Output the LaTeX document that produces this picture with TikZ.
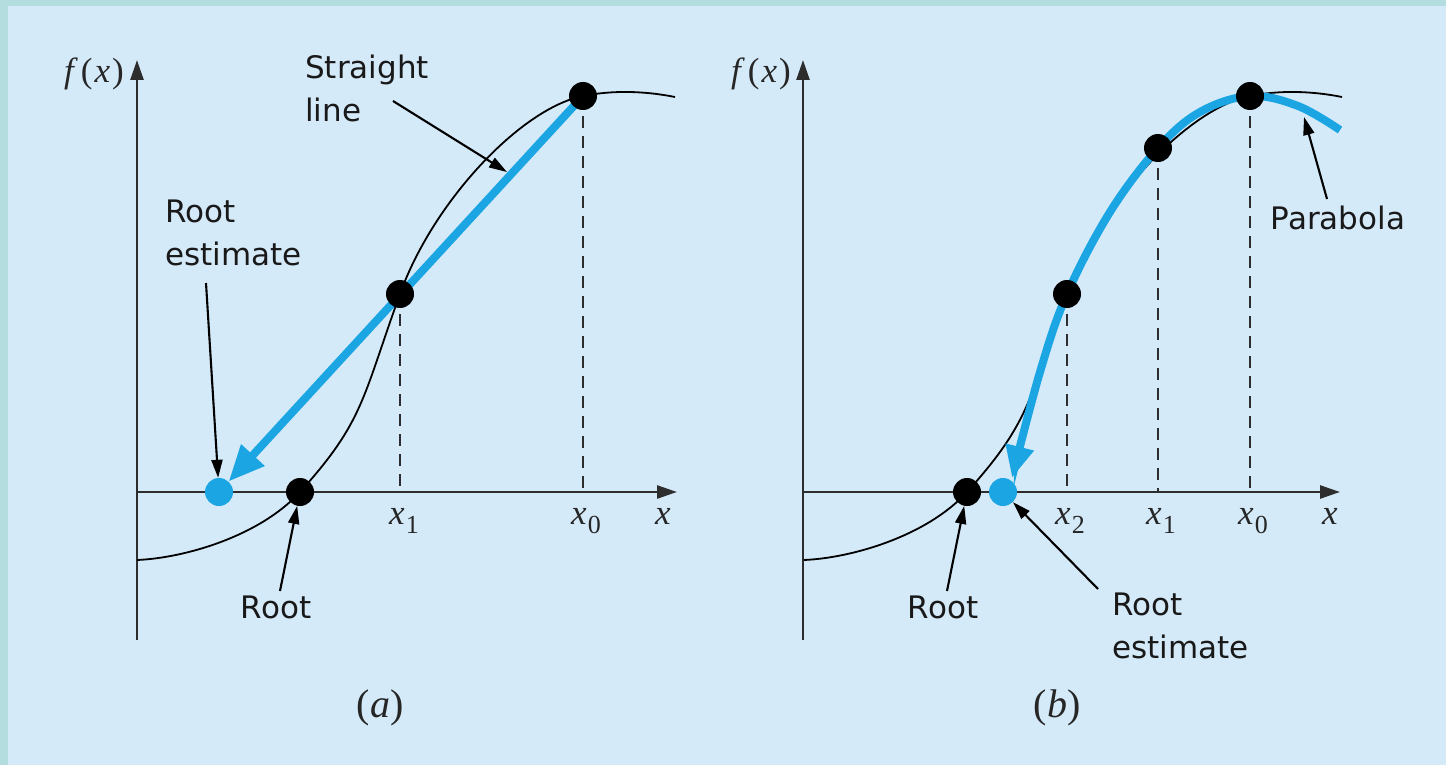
\documentclass[tikz,border=0pt]{standalone}
\usepackage{fontspec}
\setmainfont{Liberation Serif}
\setsansfont{DejaVu Sans}
\usetikzlibrary{arrows.meta}
\definecolor{bord}{RGB}{180,221,224}
\definecolor{bgin}{RGB}{213,234,249}
\definecolor{skyb}{RGB}{27,166,227}
\definecolor{axc}{RGB}{45,45,45}
\newcommand\xs[1]{\textit{x}\kern1pt\raisebox{-9pt}{\fontsize{26}{26}\selectfont #1}}
\newcommand\fx{\textit{f}\kern3pt(\kern2pt\textit{x}\kern2pt)}
\pgfdeclarelayer{bgl}
\pgfdeclarelayer{midl}
\pgfsetlayers{bgl,midl,main}
\begin{document}
\begin{tikzpicture}[x=1pt,y=-1pt,
  axis/.style={line width=2.6pt, draw=axc, -{Triangle[length=20pt,width=13pt]}},
  curve/.style={line width=1.8pt, draw=black},
  guide/.style={line width=2pt, draw=axc, dash pattern=on 12pt off 8pt},
  dot/.style={circle, fill=black, minimum size=28pt, inner sep=0pt},
  bdot/.style={circle, fill=skyb, minimum size=28pt, inner sep=0pt},
  bluearr/.style={line width=8pt, draw=skyb, -{Triangle[length=36pt,width=30pt]}},
  pointer/.style={line width=2.1pt, draw=black, -{Triangle[length=18pt,width=11pt]}},
  lab/.style={font=\sffamily\fontsize{31}{43}\selectfont, align=left, inner sep=0pt, text=black!90},
  mth/.style={font=\fontsize{35}{35}\selectfont, inner sep=0pt, text=black!85},
  captxt/.style={font=\fontsize{40}{40}\selectfont, inner sep=0pt, text=black!85}
]
\useasboundingbox (0,0) rectangle (1446,765);
\begin{pgfonlayer}{bgl}
  \fill[bord] (0,0) rectangle (1446,765);
  \fill[bgin] (8,6) rectangle (1446,765);
\end{pgfonlayer}

% ---------- panel (a) ----------
\node[dot] (rootA) at (300,492) {};
\node[dot] (x1A) at (400,294) {};
\node[dot] (x0A) at (583,96) {};
\node[bdot] (beA) at (219,492) {};
\node[mth] (fxA) at (94,74) {\fx};
\node[mth] (xA) at (663,516) {\textit{x}};
\node[mth] (lx0A) at (586,521) {\xs{0}};
\node[mth] (lx1A) at (404,521) {\xs{1}};
\node[lab, anchor=north west] (slA) at (305,55) {Straight\\line};
\node[lab, anchor=north west] (reA) at (165,200) {Root\\estimate};
\node[lab] (rtA) at (276,607) {Root};
\node[captxt] (capA) at (380,708) {(\textit{a})};
\coordinate (slS) at (393,101);
\coordinate (slE) at (507,172);
\coordinate (reS) at (206,283);
\coordinate (rtS) at (280,591);

\begin{pgfonlayer}{midl}
  \draw[axis] (137,640) -- (137,60);
  \draw[axis] (137,492) -- (677,492);
  \draw[guide] (400,294) -- (400,492);
  \draw[guide] (583,96) -- (583,492);
  \draw[curve] (137,560) .. controls (185,558) and (260,536) .. (300,492)
     .. controls (364,421) and (362,399) .. (400,294)
     .. controls (433,201.6) and (521,108.4) .. (583,96)
     .. controls (613,90) and (645,91) .. (675,97);
  \draw[bluearr] (x0A.center) -- (beA);
\end{pgfonlayer}
\draw[pointer] (slS) -- (slE);
\draw[pointer] (reS) -- (beA);
\draw[pointer] (rtS) -- (rootA);

% ---------- panel (b) ----------
\node[dot] (rootB) at (967,492) {};
\node[dot] (x2B) at (1067,294) {};
\node[dot] (x1B) at (1158,148) {};
\node[dot] (x0B) at (1250,96) {};
\node[bdot] (beB) at (1003,492) {};
\node[mth] (fxB) at (761,74) {\fx};
\node[mth] (xB) at (1330,516) {\textit{x}};
\node[mth] (lx0B) at (1253,521) {\xs{0}};
\node[mth] (lx1B) at (1161,521) {\xs{1}};
\node[mth] (lx2B) at (1070,521) {\xs{2}};
\node[lab] (paB) at (1338,218) {Parabola};
\node[lab] (rtB) at (943,607) {Root};
\node[lab, anchor=north west] (reB) at (1112,593) {Root\\estimate};
\node[captxt] (capB) at (1057,708) {(\textit{b})};
\coordinate (paS) at (1327,199);
\coordinate (paE) at (1304,117);
\coordinate (rtSB) at (947,591);
\coordinate (reSB) at (1098,589);

\begin{pgfonlayer}{midl}
  \draw[axis] (803,640) -- (803,60);
  \draw[axis] (803,492) -- (1340,492);
  \draw[guide] (1067,294) -- (1067,492);
  \draw[guide] (1158,148) -- (1158,492);
  \draw[guide] (1250,96) -- (1250,492);
  \draw[curve] (804,560) .. controls (852,558) and (927,536) .. (967,492)
     .. controls (1031,421) and (1029,399) .. (1067,294)
     .. controls (1100,201.6) and (1188,108.4) .. (1250,96)
     .. controls (1280,90) and (1312,91) .. (1342,97);
  \draw[line width=8pt, draw=skyb, -{Triangle[length=32pt,width=27pt]}] plot[smooth, tension=0.6] coordinates {(1340,130) (1298,106) (1250,96) (1200,112) (1158,148) (1110,212) (1067,294) (1040,372) (1012,478)};
\end{pgfonlayer}
\draw[pointer] (paS) -- (paE);
\draw[pointer] (rtSB) -- (rootB);
\draw[pointer] (reSB) -- (beB);
\end{tikzpicture}
\end{document}
